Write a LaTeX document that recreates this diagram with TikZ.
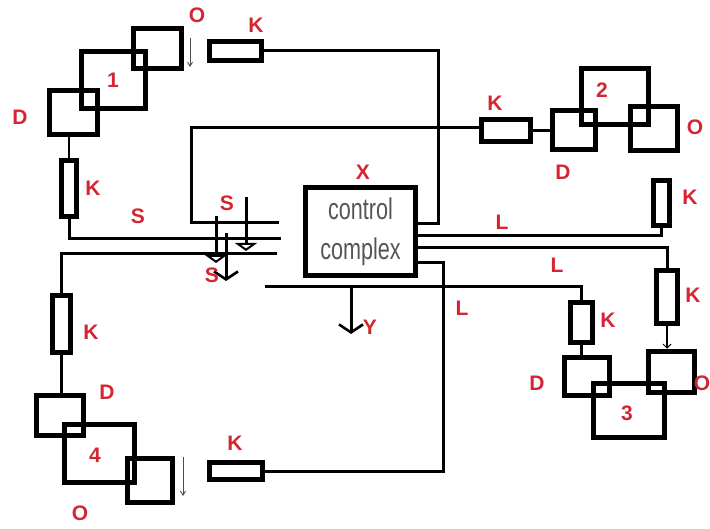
\documentclass[tikz,border=0pt]{standalone}
\usepackage{fontspec}
\setmainfont{Liberation Sans}
\newfontfamily\narrowfont[FakeStretch=0.72]{Liberation Sans}
\usetikzlibrary{arrows.meta}
\definecolor{lblred}{RGB}{212,38,50}
\definecolor{txtgray}{RGB}{85,85,85}
\tikzset{
  blk/.style={draw=black, line width=5.5pt, minimum width=#1, inner sep=0pt},
  conn/.style={draw=black, line width=3pt},
  link/.style={draw=black, line width=2.4pt},
  thinarrow/.style={draw=black!70, line width=0.9pt, -{Straight Barb[length=4pt,width=5pt]}},
  lbl/.style={text=lblred, font=\fontsize{21}{21}\selectfont\bfseries, inner sep=0pt},
  vtip/.style={-{Straight Barb[length=8pt,width=24pt,line width=2.6pt]}},
  ttip/.style={-{Triangle[open,length=8pt,width=22pt,line width=2.2pt]}},
}
\begin{document}
\begin{tikzpicture}[x=1pt,y=-1pt]
\useasboundingbox (0,0) rectangle (710,529);
% ---- group 1
\node[blk=48pt, minimum height=40pt] (O1) at (157.5,48.5) {};
\node[blk=64pt, minimum height=57pt] (B1) at (113.5,80) {};
\node[blk=48pt, minimum height=44pt] (D1) at (73.5,112.5) {};
\node[blk=52pt, minimum height=19pt] (K1t) at (235.5,51) {};
\node[blk=15pt, minimum height=56pt] (K1v) at (69,188.5) {};
% ---- group 2
\node[blk=49pt, minimum height=22pt] (K2) at (506,130.5) {};
\node[blk=43pt, minimum height=39pt] (D2) at (574,130) {};
\node[blk=67pt, minimum height=56pt] (B2) at (615,96.5) {};
\node[blk=47pt, minimum height=44pt] (O2) at (654,128.5) {};
\node[blk=16pt, minimum height=45pt] (K2v) at (661.5,203) {};
% ---- group 3
\node[blk=21pt, minimum height=53pt] (K3b) at (667,297) {};
\node[blk=22pt, minimum height=40pt] (K3a) at (581.5,322.5) {};
\node[blk=45pt, minimum height=38pt] (D3) at (587,376.5) {};
\node[blk=71pt, minimum height=54pt] (B3) at (629,410.5) {};
\node[blk=46pt, minimum height=41pt] (O3) at (671.5,372) {};
% ---- group 4
\node[blk=18pt, minimum height=57pt] (K4v) at (61.5,324) {};
\node[blk=47pt, minimum height=40pt] (D4) at (60,415.5) {};
\node[blk=70pt, minimum height=58pt] (B4) at (99.5,453.5) {};
\node[blk=45pt, minimum height=44pt] (O4) at (150,480.5) {};
\node[blk=53pt, minimum height=17pt] (K4h) at (236,471) {};
% ---- control complex
\node[blk=110pt, minimum height=88pt, align=center, text=txtgray,
      font=\narrowfont\fontsize{30}{40}\selectfont] (ctrl) at (360.5,231.5) {control\\complex};

% ---- coordinates
\coordinate (c1) at (438,224);
\coordinate (s1) at (279,223);
\coordinate (b1) at (191,128);
\coordinate (s2) at (281,239);
\coordinate (s3) at (277,254);
\coordinate (s4) at (265,287);
\coordinate (l1) at (661.5,236);
\coordinate (l2) at (667,248);
\coordinate (l3) at (443,263);
\coordinate (y0) at (351,287);
\coordinate (y1) at (351,334);
\coordinate (a1) at (190,38);
\coordinate (a2) at (190,67);
\coordinate (a3) at (183,457);
\coordinate (a4) at (183,496);
\coordinate (sa0) at (246,197);
\coordinate (sa1) at (246,251);
\coordinate (sb0) at (216,216);
\coordinate (sb1) at (216,263);
\coordinate (sc0) at (226,233);
\coordinate (sc1) at (226,281);

% ---- connectors
\draw[conn] (K1t.east) -| (c1) -- (c1 -| ctrl.east);
\draw[conn] (s1) -| (b1) -- (b1 -| K2.west);
\draw[conn] (K1v.south) |- (s2);
\draw[link] (K1v.north) -- (K1v.north |- D1.south);
\draw[link] (K2.east) -- (K2.east -| D2.west);
\draw[conn] (l1 -| ctrl.east) -- (l1) -- (K2v.south);
\draw[conn] (l2 -| ctrl.east) -- (l2) -- (K3b.north);
\draw[conn] (l3 -| ctrl.east) -- (l3) |- (K4h.east);
\draw[conn] (s4) -| (K3a.north);
\draw[conn] (s3) -| (K4v.north);
\draw[link] (K3a.south) -- (K3a.south |- D3.north);
\draw[link] (K4v.south) -- (K4v.south |- D4.north);
\draw[link, -{Straight Barb[length=4pt,width=8pt,line width=1pt]}] (K3b.south) -- (K3b.south |- O3.north);
\draw[conn, vtip] (y0) -- (y1);
\draw[thinarrow] (a1) -- (a2);
\draw[thinarrow] (a3) -- (a4);
\draw[conn, ttip] (sa0) -- (sa1);
\draw[conn, ttip] (sb0) -- (sb1);
\draw[conn, vtip] (sc0) -- (sc1);

% ---- labels
\node[lbl] (tO1) at (197,15) {O};
\node[lbl] (tK1) at (256,25) {K};
\node[lbl] (t1) at (113,80) {1};
\node[lbl] (tD1) at (20,117) {D};
\node[lbl] (tK1v) at (93,188) {K};
\node[lbl] (tS1) at (138,216) {S};
\node[lbl] (tS2) at (227,203) {S};
\node[lbl] (tS3) at (212,275) {S};
\node[lbl] (tX) at (363,172) {X};
\node[lbl] (tK2) at (495,103) {K};
\node[lbl] (t2) at (602,90) {2};
\node[lbl] (tO2) at (695,127) {O};
\node[lbl] (tD2) at (563,172) {D};
\node[lbl] (tK2v) at (690,197) {K};
\node[lbl] (tL1) at (502,222) {L};
\node[lbl] (tL2) at (557,265) {L};
\node[lbl] (tK3b) at (693,295) {K};
\node[lbl] (tL3) at (462,308) {L};
\node[lbl] (tK3a) at (608,320) {K};
\node[lbl] (tD3) at (537,383) {D};
\node[lbl] (t3) at (627,413) {3};
\node[lbl] (tO3) at (702,383) {O};
\node[lbl] (tY) at (370,327) {Y};
\node[lbl] (tK4v) at (91,332) {K};
\node[lbl] (tD4) at (107,392) {D};
\node[lbl] (t4) at (95,455) {4};
\node[lbl] (tO4) at (80,513) {O};
\node[lbl] (tK4h) at (235,443) {K};
\end{tikzpicture}
\end{document}
